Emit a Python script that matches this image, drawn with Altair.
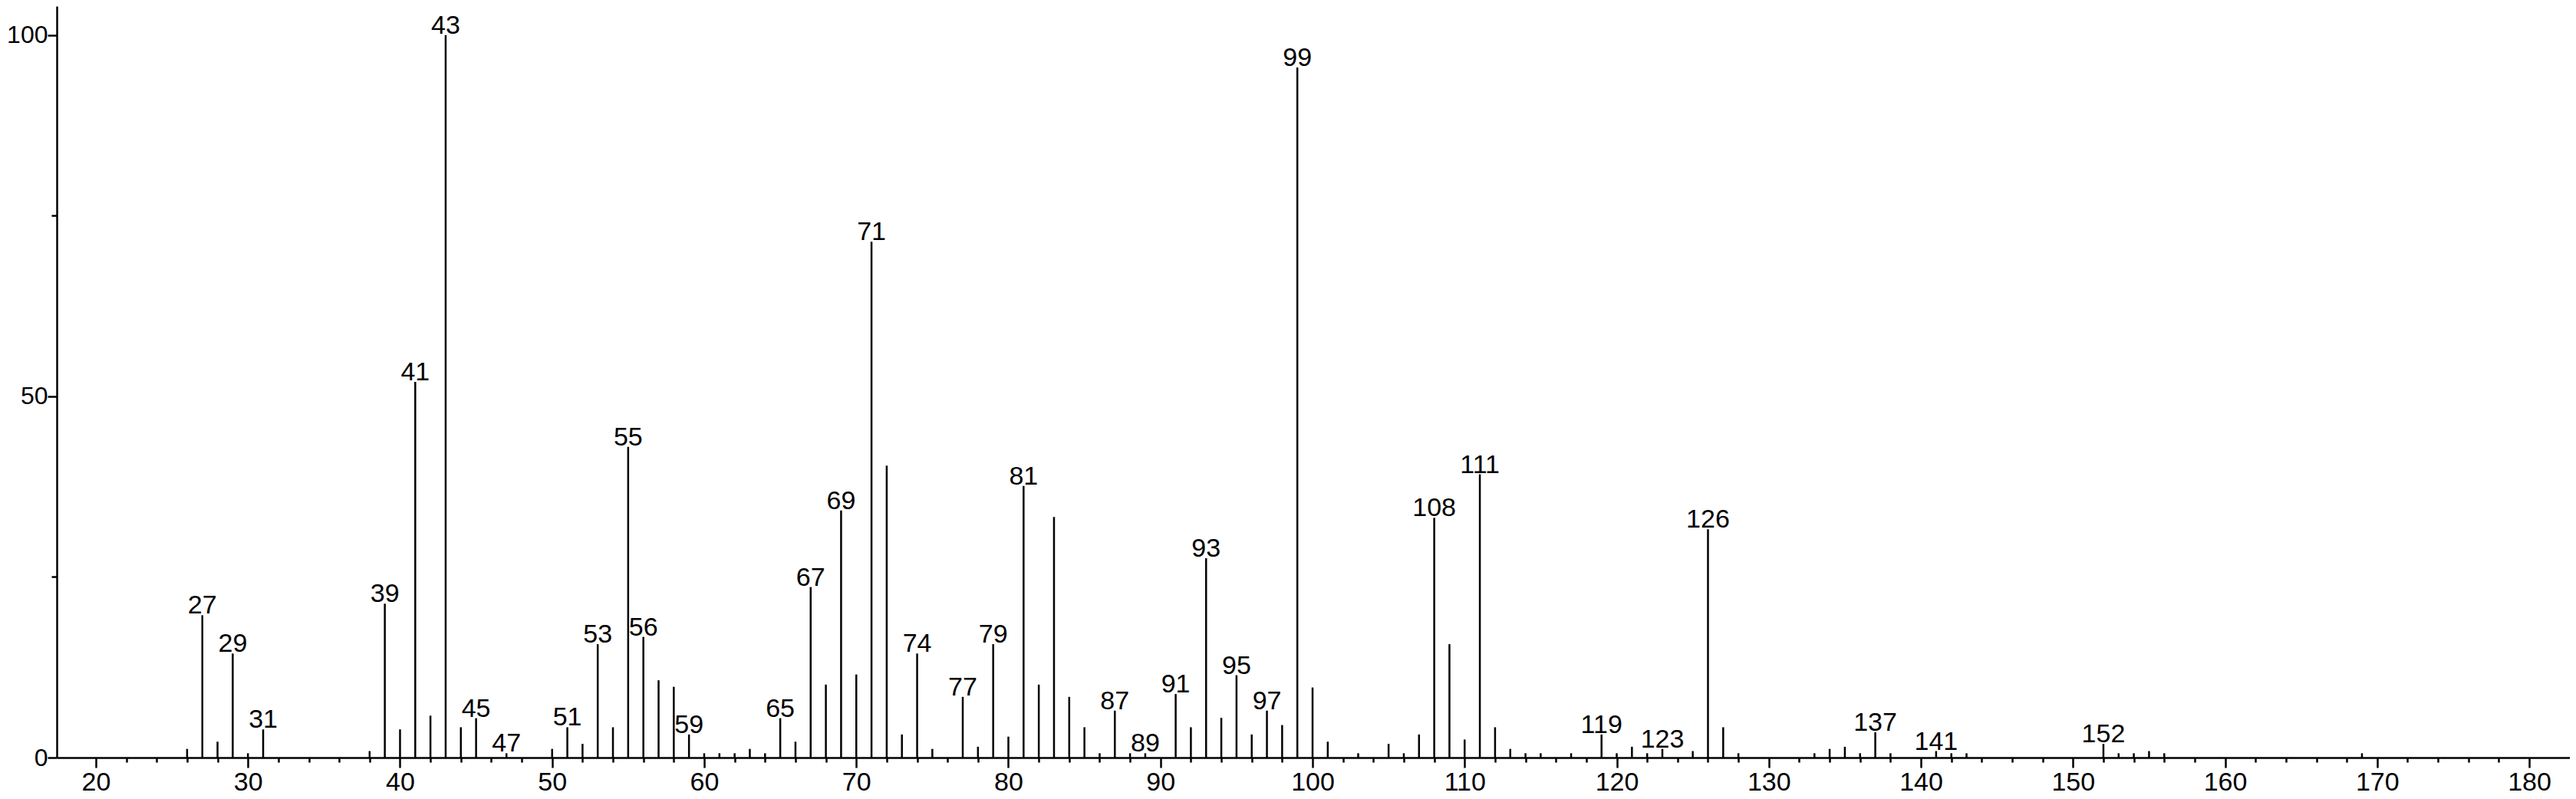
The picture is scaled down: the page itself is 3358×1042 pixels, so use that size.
import altair as alt
import pandas as pd

# m/z values and relative intensities (%)
mz = [26, 27, 28, 29, 30, 31, 38, 39, 40, 41, 42, 43, 44, 45, 47,
      50, 51, 52, 53, 54, 55, 56, 57, 58, 59, 60, 61, 62, 63, 64, 65, 66, 67, 68, 69,
      70, 71, 72, 73, 74, 75, 77, 78, 79, 80, 81, 82, 83, 84, 85, 86, 87, 88, 89,
      91, 92, 93, 94, 95, 96, 97, 98, 99, 100, 101, 103, 105, 106, 107, 108, 109,
      110, 111, 112, 113, 114, 115, 117, 119, 120, 121, 122, 123, 125, 126, 127, 128,
      133, 134, 135, 136, 137, 138, 141, 142, 143, 152, 153, 154, 155, 156, 169]
intensity = [1.2, 19.7, 2.2, 14.4, 0.6, 3.9, 0.9, 21.3, 3.9, 52.0, 5.8, 100, 4.2, 5.45, 0.6,
             1.2, 4.2, 1.9, 15.7, 4.2, 43.0, 16.7, 10.7, 9.8, 3.2, 0.6, 0.6, 0.6, 1.2, 0.6, 5.45, 2.2, 23.6, 10.1, 34.2,
             11.5, 71.4, 40.4, 3.2, 14.4, 1.2, 8.4, 1.5, 15.7, 2.9, 37.6, 10.1, 33.3, 8.4, 4.2, 0.6, 6.5, 0.6, 0.6,
             8.8, 4.2, 27.6, 5.5, 11.4, 3.2, 6.5, 4.5, 95.5, 9.7, 2.2, 0.6, 1.9, 0.6, 3.2, 33.2, 15.7,
             2.5, 39.2, 4.2, 1.2, 0.6, 0.6, 0.6, 3.2, 0.6, 1.5, 0.6, 1.2, 0.9, 31.6, 4.2, 0.6,
             0.6, 1.2, 1.5, 0.6, 3.5, 0.6, 0.9, 0.6, 0.6, 1.9, 0.6, 0.6, 0.9, 0.6, 0.6]
labeled = [27, 29, 31, 39, 41, 43, 45, 47, 51, 53, 55, 56, 59, 65, 67, 69, 71, 74, 77, 79,
           81, 87, 89, 91, 93, 95, 97, 99, 108, 111, 119, 123, 126, 137, 141, 152]

x_ticks = list(range(20, 181, 2))
y_ticks = [0, 25, 50, 75, 100]

df = pd.DataFrame({"mz": mz, "intensity": intensity})
df["label"] = [str(m) if m in labeled else "" for m in mz]

FONT = "Liberation Sans"
FS = 34

x_scale = alt.Scale(domain=[17.43, 182.67], nice=False, zero=False)
y_scale = alt.Scale(domain=[0, 104.0], nice=False)

x_axis = alt.Axis(
    values=x_ticks,
    labelExpr="datum.value % 10 === 0 ? datum.label : ''",
    title=None, grid=False,
    tickSize={"condition": {"test": "datum.value % 10 === 0", "value": 13}, "value": 6},
    tickWidth=2.5, tickColor="black",
    domainColor="black", domainWidth=2.5,
    labelFont=FONT, labelFontSize=FS, labelColor="black",
    labelBaseline="alphabetic", labelPadding=29,
    labelOverlap=False, labelFlush=False,
)
y_axis = alt.Axis(
    values=y_ticks,
    labelExpr="datum.value % 50 === 0 ? datum.label : ''",
    title=None, grid=False,
    tickSize={"condition": {"test": "datum.value % 50 === 0", "value": 12}, "value": 7},
    tickWidth=2.5, tickColor="black",
    domainColor="black", domainWidth=2.5,
    labelFont=FONT, labelFontSize=32, labelColor="black",
    labelBaseline="middle", labelPadding=0,
    labelOverlap=False, labelFlush=False,
)

base = alt.Chart(df)

rules = base.mark_rule(color="black", strokeWidth=2.5).encode(
    x=alt.X("mz:Q", scale=x_scale, axis=x_axis),
    y=alt.Y("intensity:Q", scale=y_scale, axis=y_axis),
    y2=alt.datum(0),
)

texts = base.transform_filter('datum.label != ""').mark_text(
    font=FONT, fontSize=FS, color="black", align="center",
    baseline="alphabetic", dy=-2,
).encode(
    x=alt.X("mz:Q", scale=x_scale),
    y=alt.Y("intensity:Q", scale=y_scale),
    text="label:N",
)

chart = alt.layer(rules, texts).properties(
    width=3276, height=980,
    autosize=alt.AutoSizeParams(type="none"),
    padding={"left": 66, "top": 0, "right": 0, "bottom": 50},
).configure_view(stroke=None)

chart.save("out.html", embed_options={"renderer": "svg", "actions": False})
